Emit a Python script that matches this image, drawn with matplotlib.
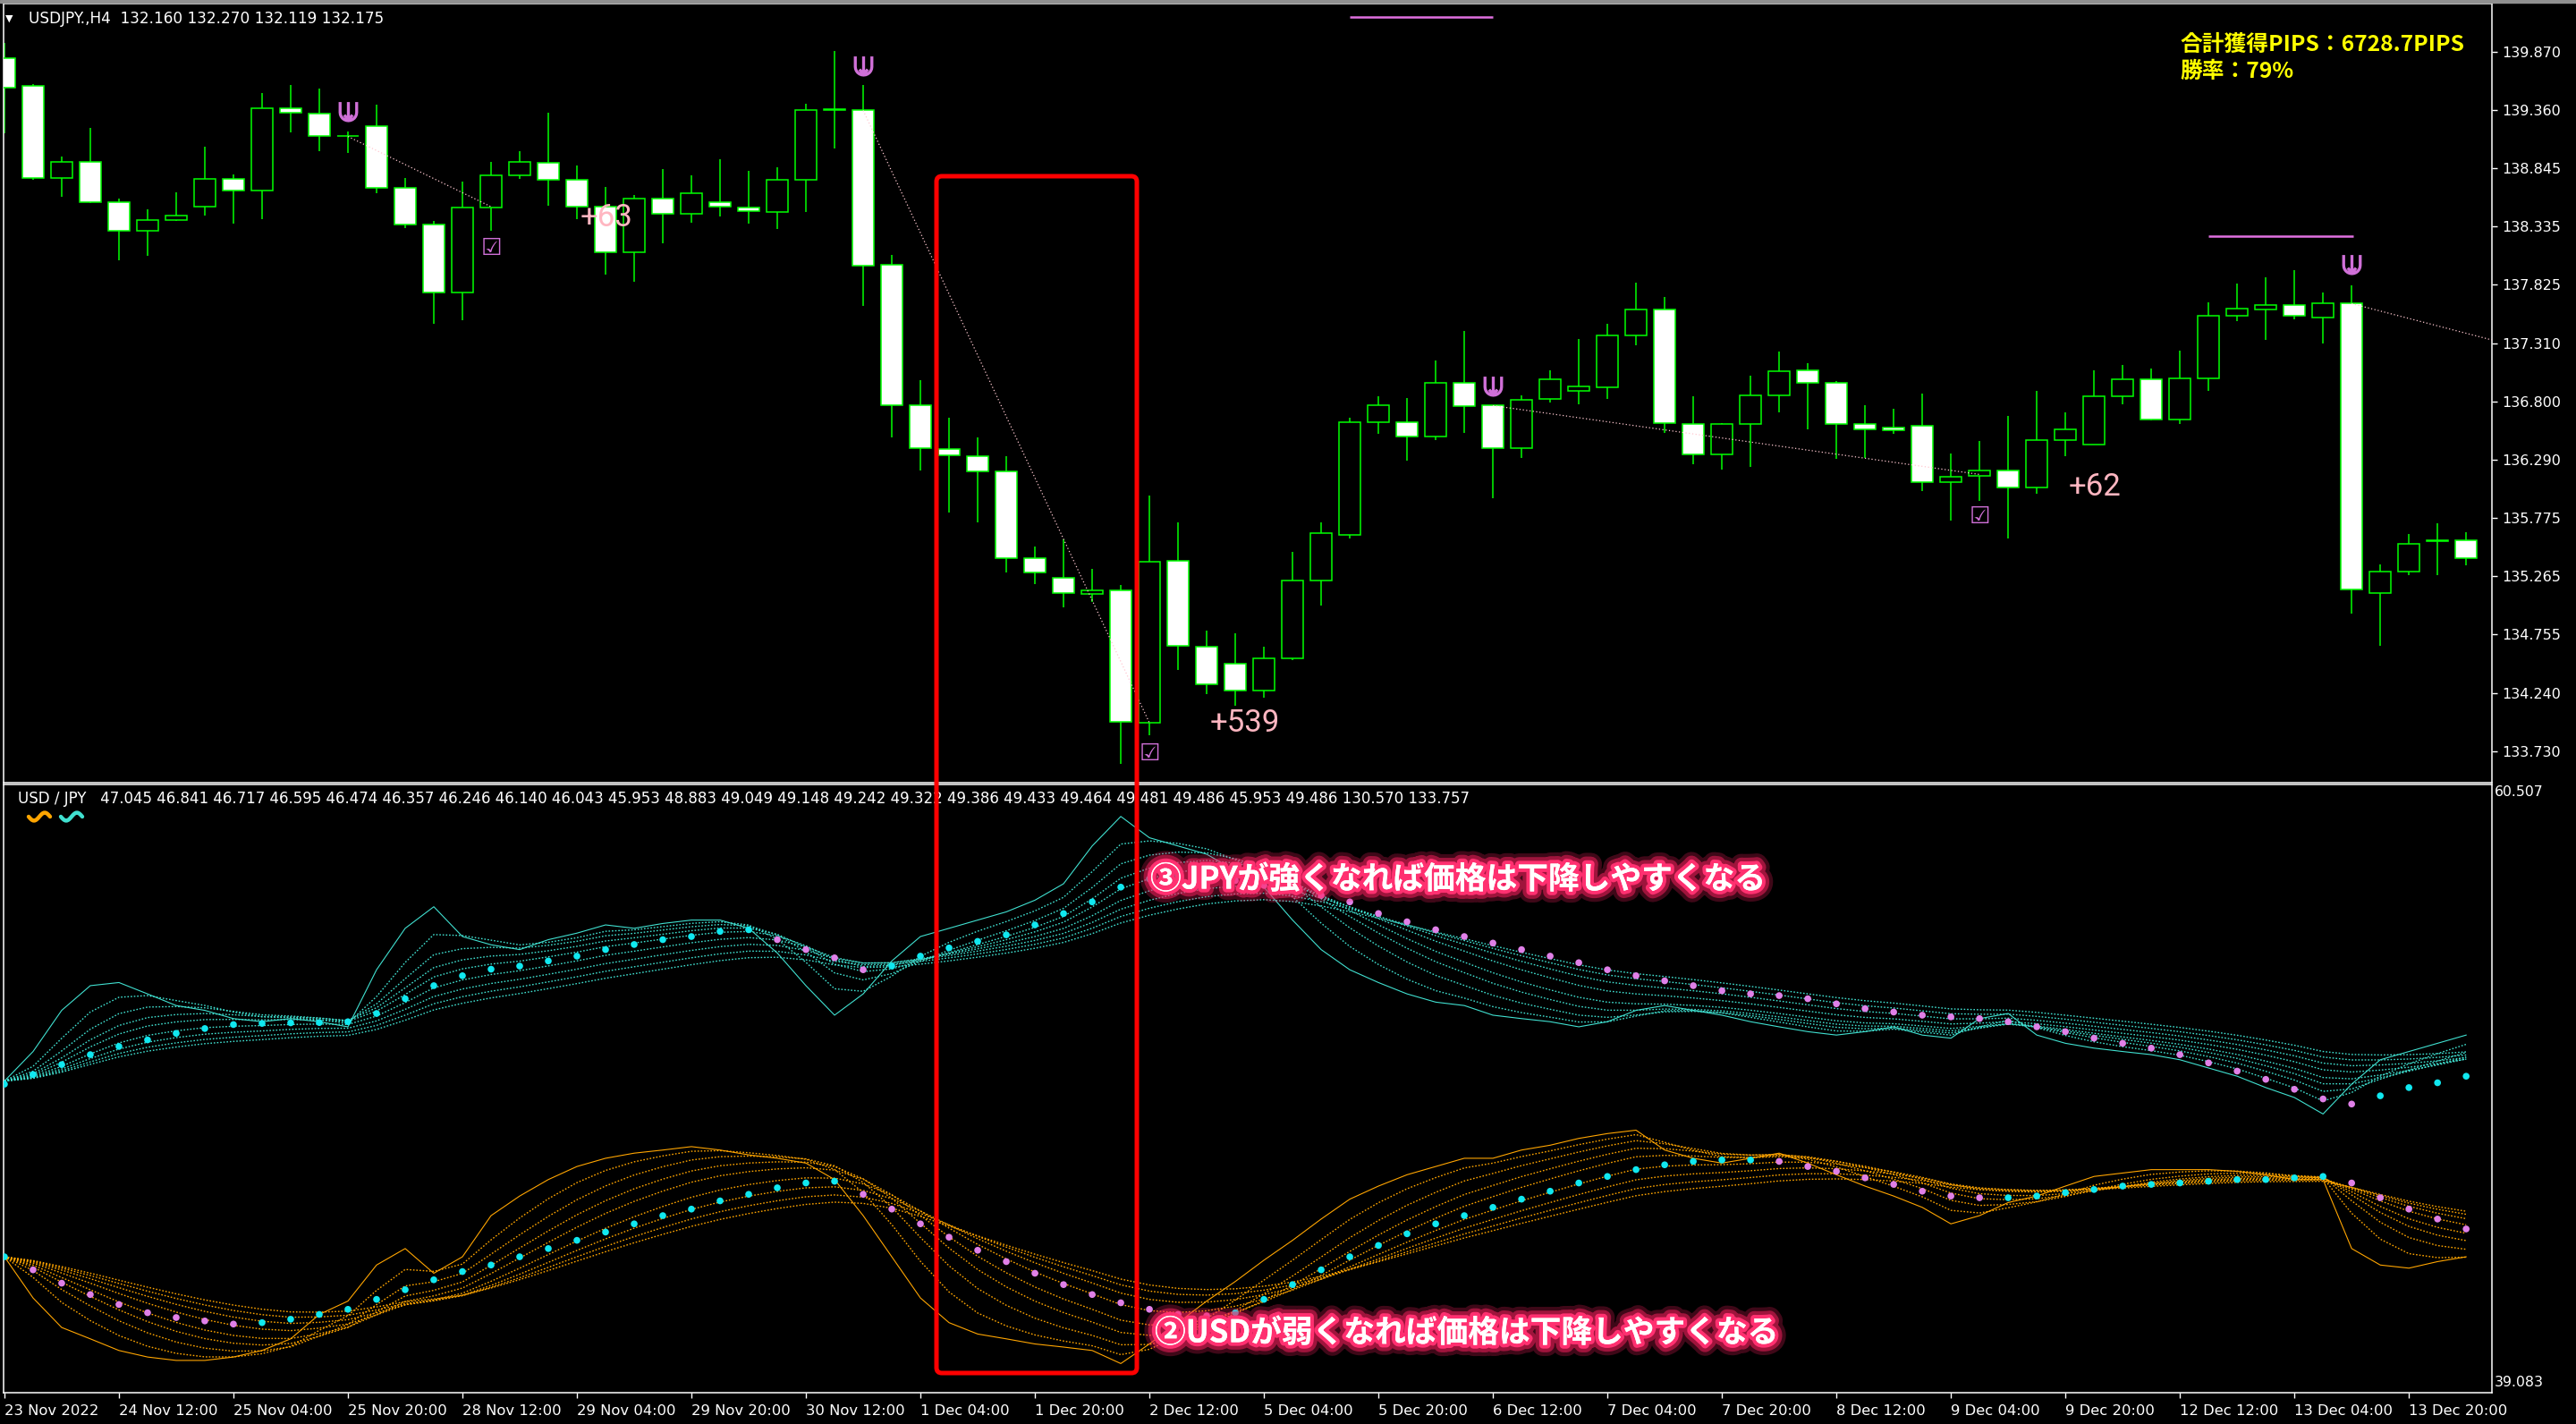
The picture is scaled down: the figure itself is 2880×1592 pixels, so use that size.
import matplotlib
matplotlib.use("Agg")
import matplotlib.pyplot as plt
import matplotlib.patheffects as pe
from matplotlib.lines import Line2D
from matplotlib.patches import FancyBboxPatch, Rectangle
from matplotlib.path import Path
from matplotlib.transforms import IdentityTransform
import numpy as np
import pandas as pd

W, H = 2880, 1592

# USDJPY H4 candles, first bar 23 Nov 2022 20:00
opens = [139.817, 139.566, 138.764, 138.905, 138.553, 138.297, 138.394, 138.509, 138.756, 138.654,
         139.372, 139.328, 139.128, 139.214, 138.672, 138.350, 137.756, 138.500, 138.782, 138.892,
         138.747, 138.509, 138.112, 138.579, 138.447, 138.553, 138.504, 138.460, 138.747, 139.361,
         139.355, 137.998, 136.764, 136.386, 136.324, 136.183, 135.425, 135.249, 135.108, 135.139,
         133.980, 135.399, 134.646, 134.496, 134.263, 134.544, 135.227, 135.632, 136.615, 136.615,
         136.491, 136.963, 136.764, 136.394, 136.821, 136.892, 136.927, 137.381, 137.606, 136.601,
         136.333, 136.601, 136.857, 137.073, 136.967, 136.601, 136.570, 136.584, 136.095, 136.148,
         136.192, 136.047, 136.461, 136.425, 136.844, 136.993, 136.641, 137.002, 137.553, 137.610,
         137.646, 137.540, 137.659, 135.121, 135.311, 135.577, 135.579]
highs = [139.950, 139.584, 138.949, 139.200, 138.579, 138.487, 138.637, 139.037, 138.795, 139.509,
         139.575, 139.544, 139.170, 139.403, 138.760, 138.381, 138.729, 138.901, 139.000, 139.333,
         138.870, 138.685, 138.615, 138.839, 138.786, 138.927, 138.826, 138.857, 139.412, 139.874,
         139.575, 138.090, 136.989, 136.659, 136.487, 136.320, 135.531, 135.588, 135.333, 135.192,
         135.972, 135.738, 134.787, 134.765, 134.650, 135.483, 135.738, 136.659, 136.848, 136.830,
         137.161, 137.421, 136.770, 136.857, 137.073, 137.350, 137.482, 137.844, 137.716, 136.844,
         136.614, 137.029, 137.240, 137.139, 136.976, 136.764, 136.734, 136.866, 136.346, 136.456,
         136.672, 136.892, 136.703, 137.077, 137.121, 137.086, 137.249, 137.672, 137.835, 137.888,
         137.954, 137.756, 137.822, 135.368, 135.641, 135.734, 135.654]
lows = [139.156, 138.747, 138.593, 138.540, 138.037, 138.077, 138.385, 138.430, 138.359, 138.399,
        139.161, 139.000, 138.985, 138.628, 138.319, 137.482, 137.513, 138.297, 138.756, 138.518,
        138.399, 137.910, 137.848, 138.192, 138.372, 138.421, 138.359, 138.311, 138.460, 139.024,
        137.637, 136.482, 136.192, 135.822, 135.743, 135.298, 135.200, 134.994, 135.038, 133.619,
        133.870, 134.443, 134.232, 134.130, 134.200, 134.527, 135.007, 135.597, 136.513, 136.284,
        136.460, 136.527, 135.950, 136.302, 136.791, 136.778, 136.822, 137.293, 136.527, 136.249,
        136.205, 136.227, 136.703, 136.557, 136.293, 136.306, 136.513, 136.016, 135.756, 135.927,
        135.597, 135.994, 136.324, 136.420, 136.773, 136.632, 136.601, 136.897, 137.505, 137.342,
        137.518, 137.306, 134.941, 134.654, 135.280, 135.280, 135.359]
closes = [139.553, 138.764, 138.905, 138.553, 138.297, 138.394, 138.434, 138.756, 138.650, 139.372,
          139.337, 139.130, 139.132, 138.672, 138.350, 137.756, 138.500, 138.782, 138.905, 138.747,
          138.509, 138.112, 138.579, 138.447, 138.628, 138.509, 138.469, 138.747, 139.359, 139.365,
          137.989, 136.769, 136.394, 136.328, 136.183, 135.425, 135.302, 135.121, 135.139, 133.989,
          135.390, 134.659, 134.320, 134.263, 134.549, 135.227, 135.646, 136.615, 136.764, 136.491,
          136.963, 136.756, 136.394, 136.817, 136.993, 136.932, 137.381, 137.606, 136.610, 136.333,
          136.601, 136.857, 137.068, 136.967, 136.601, 136.553, 136.549, 136.095, 136.143, 136.192,
          136.047, 136.461, 136.553, 136.844, 136.993, 136.641, 137.002, 137.553, 137.619, 137.646,
          137.549, 137.659, 135.152, 135.311, 135.553, 135.581, 135.425]

price_ticks = [139.870, 139.360, 138.845, 138.335, 137.825, 137.310, 136.800,
               136.290, 135.775, 135.265, 134.755, 134.240, 133.730]
tick_bars = list(range(0, 85, 4))
tick_labels = ["23 Nov 2022", "24 Nov 12:00", "25 Nov 04:00", "25 Nov 20:00", "28 Nov 12:00",
               "29 Nov 04:00", "29 Nov 20:00", "30 Nov 12:00", "1 Dec 04:00", "1 Dec 20:00",
               "2 Dec 12:00", "5 Dec 04:00", "5 Dec 20:00", "6 Dec 12:00", "7 Dec 04:00",
               "7 Dec 20:00", "8 Dec 12:00", "9 Dec 04:00", "9 Dec 20:00", "12 Dec 12:00",
               "13 Dec 04:00", "13 Dec 20:00"]

# trade marks
entry_bars = [12, 30, 52, 82]
arrow_prices = [139.35, 139.75, 136.94, 138.01]
line_start = [139.126, 139.355, 136.764, 137.659]
line_end_bars = [17, 40, 69, 86.9]
line_end = [138.509, 133.980, 136.160, 137.340]
check_bars = [17, 40, 69]
check_prices = [138.14, 133.71, 135.79]
profit_bars = [20.1, 42.1, 72.1]
profit_prices = [138.41, 133.98, 136.05]
profit_text = ["+63", "+539", "+62"]
level_x0 = [47, 77]
level_x1 = [52, 82.06]
level_price = [140.175, 138.251]

# currency strength (sub window)
jpy_raw = [50.06, 51.10, 52.55, 53.42, 53.53, 53.13, 52.72, 52.55, 52.26, 52.15,
           52.26, 52.15, 51.97, 53.98, 55.44, 56.20, 55.15, 54.86, 54.69, 55.04,
           55.27, 55.56, 55.44, 55.61, 55.73, 55.73, 55.44, 54.57, 53.42, 52.38,
           53.13, 54.29, 55.15, 55.44, 55.73, 56.02, 56.43, 57.01, 58.34, 59.38,
           58.63, 58.34, 58.05, 57.47, 56.89, 55.73, 54.69, 53.98, 53.53, 53.13,
           52.84, 52.72, 52.38, 52.26, 52.15, 51.97, 52.15, 52.55, 52.72, 52.55,
           52.38, 52.15, 51.97, 51.80, 51.68, 51.80, 51.97, 51.68, 51.57, 52.26,
           52.44, 51.68, 51.39, 51.22, 51.10, 50.99, 50.81, 50.52, 50.23, 49.83,
           49.48, 48.90, 49.95, 50.81, 51.10, 51.39, 51.68]
jpy_dot = [49.95, 50.29, 50.64, 50.99, 51.28, 51.51, 51.74, 51.91, 52.05, 52.09,
           52.11, 52.12, 52.15, 52.44, 52.96, 53.42, 53.77, 54.00, 54.11, 54.29,
           54.46, 54.69, 54.87, 55.04, 55.15, 55.33, 55.39, 55.04, 54.69, 54.40,
           53.98, 54.11, 54.46, 54.75, 54.98, 55.21, 55.56, 55.96, 56.37, 56.89,
           57.18, 57.30, 57.24, 57.12, 56.95, 56.77, 56.60, 56.37, 55.96, 55.67,
           55.39, 55.15, 54.92, 54.69, 54.46, 54.23, 53.98, 53.77, 53.59, 53.42,
           53.24, 53.13, 53.07, 52.96, 52.78, 52.61, 52.49, 52.38, 52.32, 52.26,
           52.15, 51.97, 51.80, 51.57, 51.39, 51.22, 50.99, 50.70, 50.41, 50.12,
           49.77, 49.43, 49.25, 49.54, 49.83, 50.00, 50.23]
usd_raw = [43.87, 42.42, 41.38, 40.98, 40.57, 40.34, 40.22, 40.22, 40.34, 40.57,
           40.98, 41.84, 42.31, 43.58, 44.16, 43.29, 43.87, 45.32, 46.01, 46.59,
           47.05, 47.34, 47.52, 47.63, 47.75, 47.63, 47.46, 47.34, 47.17, 46.59,
           45.32, 43.87, 42.42, 41.55, 41.15, 40.98, 40.80, 40.69, 40.57, 40.11,
           40.80, 41.55, 42.31, 43.00, 43.75, 44.45, 45.20, 45.90, 46.36, 46.76,
           47.05, 47.34, 47.34, 47.63, 47.80, 48.04, 48.21, 48.33, 47.63, 47.34,
           47.17, 47.34, 47.52, 47.17, 46.76, 46.36, 46.01, 45.61, 45.03, 45.32,
           45.78, 46.01, 46.36, 46.70, 46.82, 46.94, 46.94, 46.94, 46.88, 46.76,
           46.59, 46.59, 44.16, 43.58, 43.47, 43.70, 43.87]
usd_dot = [43.87, 43.41, 42.94, 42.54, 42.19, 41.90, 41.73, 41.61, 41.50, 41.55,
           41.67, 41.84, 42.02, 42.37, 42.71, 43.06, 43.35, 43.58, 43.87, 44.16,
           44.45, 44.74, 45.03, 45.32, 45.55, 45.84, 46.07, 46.30, 46.47, 46.53,
           46.07, 45.55, 45.03, 44.56, 44.10, 43.70, 43.29, 42.89, 42.54, 42.25,
           42.02, 41.84, 41.79, 41.90, 42.37, 42.89, 43.41, 43.87, 44.27, 44.68,
           45.03, 45.32, 45.61, 45.90, 46.18, 46.47, 46.70, 46.94, 47.11, 47.23,
           47.28, 47.28, 47.23, 47.05, 46.88, 46.65, 46.42, 46.18, 46.01, 45.95,
           45.95, 46.01, 46.13, 46.24, 46.36, 46.42, 46.47, 46.53, 46.59, 46.59,
           46.65, 46.70, 46.47, 45.95, 45.55, 45.20, 44.85]
ribbon_spans = [3, 5, 7, 9, 12, 15, 18, 21]

GREEN = "#00ff00"
TURQ = "#40e0d0"
ORANGE = "#ffa500"
DOT_UP = "#10e8f0"
DOT_DN = "#e080e8"
ORCHID = "#d070d8"
LBL = 11.8

plt.rcParams["font.family"] = ["DejaVu Sans"]
fig = plt.figure(figsize=(W / 100, H / 100), dpi=100, facecolor="black")


def px_box(x0, y0, x1, y1):
    return [x0 / W, 1 - y1 / H, (x1 - x0) / W, (y1 - y0) / H]


def sell_marker():
    # U-shaped cup with a down arrow through the middle (MT4 sell sign)
    t = np.linspace(np.pi, 2 * np.pi, 13)
    cup = [(-0.8, 0.9), (-0.8, -0.1)] + [(0.8 * np.cos(a), -0.1 + 0.8 * np.sin(a)) for a in t] + [(0.8, 0.9)]
    verts = cup + [(0, 0.9), (0, -0.85), (-0.4, -0.35), (0, -0.85), (0.4, -0.35)]
    codes = ([Path.MOVETO] + [Path.LINETO] * (len(cup) - 1)
             + [Path.MOVETO, Path.LINETO, Path.MOVETO, Path.LINETO, Path.LINETO])
    return Path(verts, codes)


ax1 = fig.add_axes(px_box(4, 4, 2786, 875))
ax2 = fig.add_axes(px_box(4, 877, 2786, 1557))
for ax in (ax1, ax2):
    ax.set_facecolor("black")
    for s in ax.spines.values():
        s.set_color("white")
        s.set_linewidth(1.1)
    ax.set_xlim(-0.03, 86.9)

# ---- candles
x = np.arange(len(opens))
o, h, l, c = map(np.asarray, (opens, highs, lows, closes))
bear = c < o
ax1.vlines(x, l, h, color=GREEN, lw=1.1, zorder=2)
ax1.bar(x, np.abs(c - o), bottom=np.minimum(o, c), width=0.75,
        color=np.where(bear, "white", "black"), edgecolor=GREEN, linewidth=1.1, zorder=3)
ax1.set_ylim(133.455, 140.292)
ax1.yaxis.tick_right()
ax1.set_yticks(price_ticks)
ax1.set_yticklabels([f"{v:.3f}" for v in price_ticks])
ax1.tick_params(axis="y", colors="white", length=4, width=1, pad=4, labelsize=11.5)
ax1.set_xticks([])

# trade lines and marks
for x0, y0, x1, y1 in zip(entry_bars, line_start, line_end_bars, line_end):
    ax1.plot([x0, x1], [y0, y1], color="#ffc8d0", lw=0.9, ls=(0, (1, 2)), zorder=4)
ax1.plot(entry_bars, arrow_prices, ls="none", marker=sell_marker(), markersize=15,
         markerfacecolor="none", markeredgecolor=ORCHID, markeredgewidth=2.4, zorder=6)
for bx, py in zip(check_bars, check_prices):
    ax1.text(bx, py, "☑", color=ORCHID, fontsize=19, ha="center", va="center", zorder=6)
for bx, py, t in zip(profit_bars, profit_prices, profit_text):
    ax1.text(bx, py, t, color="#ffb6c1", fontsize=25, family=["Roboto", "DejaVu Sans"],
             ha="left", va="center", zorder=7)
ax1.hlines(level_price, level_x0, level_x1, color="#e070e0", lw=1.8, zorder=5)

# ---- currency strength window
xs = np.arange(len(jpy_raw))
for raw, dot, col in ((usd_raw, usd_dot, ORANGE), (jpy_raw, jpy_dot, TURQ)):
    s = pd.Series(raw)
    for span in ribbon_spans:
        ax2.plot(xs, s.ewm(span=span, adjust=False).mean(), color=col, lw=1.0,
                 ls=(0, (1.2, 1.4)), zorder=2)
    ax2.plot(xs, raw, color=col, lw=0.8, zorder=3)
    d = np.asarray(dot)
    up = np.r_[True, np.diff(d) >= 0]
    ax2.scatter(xs, d, s=30, c=np.where(up, DOT_UP, DOT_DN), edgecolors="none", zorder=4)
ax2.set_ylim(39.083, 60.507)
ax2.set_yticks([])
ax2.set_xticks(tick_bars)
ax2.set_xticklabels(tick_labels, ha="left")
ax2.tick_params(axis="x", colors="white", length=4, width=1, pad=5, labelsize=LBL)
ax2.annotate("60.507", (1, 1), xycoords="axes fraction", xytext=(3, -9),
             textcoords="offset pixels", color="white", fontsize=11.3, va="center")
ax2.annotate("39.083", (1, 0), xycoords="axes fraction", xytext=(3, 11),
             textcoords="offset pixels", color="white", fontsize=11.3, va="center")

# ---- headers
fig.text(6 / W, 1 - 21 / H, "▼", color="white", fontsize=8, va="center")
fig.text(32 / W, 1 - 21 / H, "USDJPY.,H4  132.160 132.270 132.119 132.175",
         color="white", fontsize=12.2, va="center")
fig.text(20 / W, 1 - 893 / H,
         "USD / JPY   47.045 46.841 46.717 46.595 46.474 46.357 46.246 46.140 46.043 45.953 "
         "48.883 49.049 49.148 49.242 49.322 49.386 49.433 49.464 49.481 49.486 45.953 49.486 "
         "130.570 133.757", color="white", fontsize=12.0, va="center")
# indicator-line icons under the header (small waves)
wave_t = np.linspace(0, 1, 15)
for x0, col in ((32, ORANGE), (68, TURQ)):
    fig.add_artist(Line2D(x0 + 24 * wave_t, H - 913 - 4.5 * np.sin(2 * np.pi * wave_t),
                          color=col, lw=3.2, solid_capstyle="round",
                          transform=IdentityTransform()))

jp = ["Noto Sans CJK JP", "DejaVu Sans"]
fig.text(2437 / W, 1 - 50 / H, "合計獲得PIPS：6728.7PIPS", color="#ffff00", fontsize=17.8,
         fontweight="bold", family=jp, va="center")
fig.text(2437 / W, 1 - 80 / H, "勝率：79%", color="#ffff00", fontsize=17.8,
         fontweight="bold", family=jp, va="center")

glow = [pe.withStroke(linewidth=18, foreground="#ff2060", alpha=0.25),
        pe.withStroke(linewidth=12, foreground="#ff2060", alpha=0.5),
        pe.withStroke(linewidth=6, foreground="#ff3070", alpha=1.0),
        pe.Normal()]
fig.text(1286 / W, 1 - 983 / H, "③JPYが強くなれば価格は下降しやすくなる", color="white",
         fontsize=25, fontweight="bold", family=jp, va="center", path_effects=glow, zorder=10)
fig.text(1291 / W, 1 - 1490 / H, "②USDが弱くなれば価格は下降しやすくなる", color="white",
         fontsize=25, fontweight="bold", family=jp, va="center", path_effects=glow, zorder=10)

# red frame across both windows
fig.add_artist(FancyBboxPatch((1047, H - 1535), 224, 1338,
                              boxstyle="round,pad=0,rounding_size=6", fill=False,
                              ec="#ff0000", lw=3.6, transform=IdentityTransform(), zorder=20))
fig.add_artist(Rectangle((0, H - 3), W, 3, color="#909090", transform=IdentityTransform()))

fig.savefig("out.png", dpi=100, facecolor="black")
